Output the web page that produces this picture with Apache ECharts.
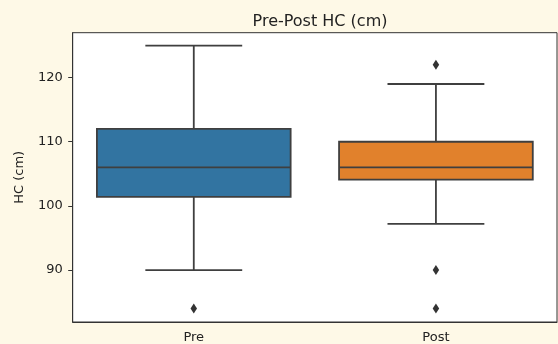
<!DOCTYPE html>
<html>
<head>
<meta charset="utf-8">
<script src="https://cdn.jsdelivr.net/npm/echarts@6/dist/echarts.min.js"></script>
<style>
  html, body { margin: 0; padding: 0; background: #fef9e7; }
  #chart { width: 558px; height: 344px; }
</style>
</head>
<body>
<div id="chart"></div>
<script>
// Head circumference before and after, summarised as box plots
const categories = ['Pre', 'Post'];
// [low whisker, Q1, median, Q3, high whisker]
const boxStats = [
  [90, 101.4, 106, 112, 125],
  [97.2, 104.1, 106, 110, 119]
];
// points beyond the whiskers: [category index, value]
const outliers = [
  [0, 84],
  [1, 122],
  [1, 90],
  [1, 84]
];
const yTicks = [90, 100, 110, 120];
const boxColors = ['#3274a1', '#e1812c'];

const lineColor = '#3f3f3f';
const font = 'DejaVu Sans';

const chart = echarts.init(document.getElementById('chart'));

chart.setOption({
  backgroundColor: '#fef9e7',
  animation: false,
  title: {
    text: 'Pre-Post HC (cm)',
    left: 315,
    top: 9,
    textAlign: 'center',
    textStyle: { fontFamily: font, fontSize: 16, fontWeight: 'normal', color: '#222' }
  },
  grid: {
    left: 72.7, top: 32.7, right: 1, bottom: 21,
    show: true, backgroundColor: '#ffffff', borderColor: '#333', borderWidth: 1
  },
  xAxis: {
    type: 'category',
    data: categories,
    boundaryGap: true,
    axisLine: { lineStyle: { color: '#333', width: 1 } },
    axisTick: { alignWithLabel: true, length: 4.5, lineStyle: { color: '#333' } },
    axisLabel: { fontFamily: font, fontSize: 13, color: '#222', margin: 9 },
    splitLine: { show: false }
  },
  yAxis: {
    type: 'value',
    min: 81.9,
    max: 127.0,
    name: 'HC (cm)',
    nameLocation: 'middle',
    nameGap: 47,
    nameTextStyle: { fontFamily: font, fontSize: 13, color: '#222' },
    axisLine: { show: true, lineStyle: { color: '#333', width: 1 } },
    axisTick: { show: true, length: 4.5, lineStyle: { color: '#333' }, customValues: yTicks },
    axisLabel: { fontFamily: font, fontSize: 13, color: '#222', margin: 10, customValues: yTicks },
    splitLine: { show: false }
  },
  series: [
    {
      type: 'custom',
      data: boxStats.map((s, i) => [i].concat(s)),
      encode: { x: 0, y: [1, 2, 3, 4, 5] },
      renderItem(params, api) {
        const i = api.value(0);
        const band = api.size([1, 0])[0];
        const boxW = band * 0.8;
        const capW = band * 0.4;
        const low = api.coord([i, api.value(1)]);
        const q1 = api.coord([i, api.value(2)]);
        const med = api.coord([i, api.value(3)]);
        const q3 = api.coord([i, api.value(4)]);
        const high = api.coord([i, api.value(5)]);
        const x = med[0];
        const stroke = { stroke: lineColor, lineWidth: 1.8 };
        return {
          type: 'group',
          children: [
            { type: 'line', shape: { x1: x, y1: high[1], x2: x, y2: q3[1] }, style: stroke },
            { type: 'line', shape: { x1: x, y1: q1[1], x2: x, y2: low[1] }, style: stroke },
            { type: 'line', shape: { x1: x - capW / 2, y1: high[1], x2: x + capW / 2, y2: high[1] }, style: stroke },
            { type: 'line', shape: { x1: x - capW / 2, y1: low[1], x2: x + capW / 2, y2: low[1] }, style: stroke },
            {
              type: 'rect',
              shape: { x: x - boxW / 2, y: q3[1], width: boxW, height: q1[1] - q3[1] },
              style: { fill: boxColors[i], stroke: lineColor, lineWidth: 1.8 }
            },
            { type: 'line', shape: { x1: x - boxW / 2, y1: med[1], x2: x + boxW / 2, y2: med[1] }, style: stroke }
          ]
        };
      }
    },
    {
      type: 'scatter',
      data: outliers,
      symbol: 'diamond',
      symbolSize: [6.5, 10],
      itemStyle: { color: '#333', opacity: 1 }
    }
  ]
});
</script>
</body>
</html>
